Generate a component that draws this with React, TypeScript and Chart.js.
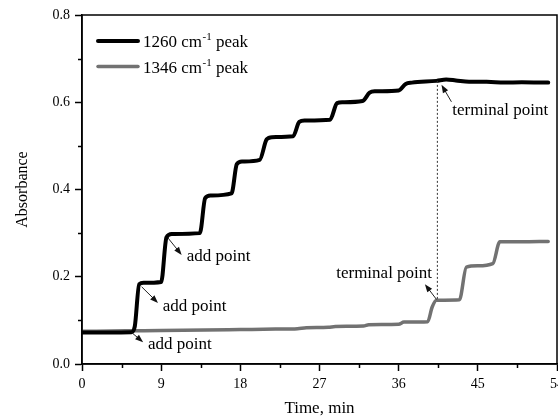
import React, { useEffect, useRef } from 'react';
import { Chart, registerables } from 'chart.js';

Chart.register(...registerables);

// ---- data ----
const time1260 = [0, 5.6, 6.0, 6.5, 7.0, 9.0, 9.6, 10.2, 13.4, 14.0, 14.6, 17.0, 17.6, 18.2, 20.2, 21.0, 21.6, 24.0, 24.7, 25.3, 28.2, 29.0, 29.6, 31.9, 32.7, 33.3, 36.0, 36.8, 37.5, 40.3, 41.4, 42.5, 44.0, 46.0, 48.0, 50.0, 53.0];
const abs1260 = [0.072, 0.073, 0.086, 0.183, 0.186, 0.188, 0.29, 0.298, 0.3, 0.38, 0.386, 0.391, 0.458, 0.464, 0.468, 0.515, 0.52, 0.522, 0.555, 0.558, 0.56, 0.598, 0.6, 0.603, 0.622, 0.625, 0.627, 0.642, 0.645, 0.649, 0.652, 0.65, 0.647, 0.647, 0.645, 0.646, 0.645];

const time1346 = [0, 5, 9, 14, 18, 22, 24.5, 25.5, 28, 28.8, 32, 32.6, 36, 36.6, 39.3, 39.8, 40.3, 42.9, 43.7, 45, 46.7, 47.5, 50, 53];
const abs1346 = [0.075, 0.076, 0.077, 0.078, 0.079, 0.08, 0.081, 0.083, 0.084, 0.086, 0.087, 0.09, 0.091, 0.096, 0.097, 0.13, 0.146, 0.147, 0.222, 0.225, 0.23, 0.28, 0.28, 0.281];

const xTickValues = [0, 9, 18, 27, 36, 45, 54];
const xMinorValues = [4.5, 13.5, 22.5, 31.5, 40.5, 49.5];
const yTickValues = [0, 0.2, 0.4, 0.6, 0.8];
const yMinorValues = [0.1, 0.3, 0.5, 0.7];

const seriesNumbers = ['1260', '1346'];
const xTitle = 'Time, min';
const yTitle = 'Absorbance';

// terminal marker (dotted vertical line)
const terminalTime = 40.4;
const terminalTop = 0.649;
const terminalBottom = 0.147;

// annotation arrows: tail (t, A) -> head (t, A), label anchored at (t, A)
const annTexts = ['add point', 'add point', 'add point', 'terminal point', 'terminal point'];
const annTail = [[5.65, 0.072], [6.78, 0.177], [9.77, 0.289], [42.0, 0.601], [40.3, 0.148]];
const annHead = [[6.95, 0.05], [8.64, 0.14], [11.33, 0.25], [40.87, 0.64], [38.98, 0.183]];
const annLabelAt = [[7.5, 0.044], [9.17, 0.131], [11.9, 0.246], [42.1, 0.582], [28.9, 0.208]];

const FAMILY = "'Liberation Serif', 'Times New Roman', serif";
const BLACK = '#000000';
const GRAY = '#727272';

function drawArrow(ctx: CanvasRenderingContext2D, x1: number, y1: number, x2: number, y2: number) {
  const ang = Math.atan2(y2 - y1, x2 - x1);
  const len = 8;
  const hw = 3;
  ctx.beginPath();
  ctx.moveTo(x1, y1);
  ctx.lineTo(x2 - Math.cos(ang) * len * 0.6, y2 - Math.sin(ang) * len * 0.6);
  ctx.lineWidth = 1;
  ctx.strokeStyle = '#222';
  ctx.stroke();
  ctx.beginPath();
  ctx.moveTo(x2, y2);
  ctx.lineTo(x2 - Math.cos(ang) * len - Math.sin(ang) * hw, y2 - Math.sin(ang) * len + Math.cos(ang) * hw);
  ctx.lineTo(x2 - Math.cos(ang) * len + Math.sin(ang) * hw, y2 - Math.sin(ang) * len - Math.cos(ang) * hw);
  ctx.closePath();
  ctx.fillStyle = '#111';
  ctx.fill();
}

const decorPlugin = {
  id: 'decor',
  afterDraw(chart: any) {
    const { ctx, chartArea: a, scales } = chart;
    const xs = scales.x;
    const ys = scales.y;
    ctx.save();
    // frame
    ctx.strokeStyle = BLACK;
    ctx.lineWidth = 1.5;
    ctx.strokeRect(a.left, a.top, a.right - a.left, a.bottom - a.top);
    // minor ticks
    ctx.lineWidth = 1.5;
    ctx.beginPath();
    xMinorValues.forEach((v) => {
      const px = Math.round(xs.getPixelForValue(v)) + 0.5;
      ctx.moveTo(px, a.bottom);
      ctx.lineTo(px, a.bottom + 4);
    });
    yMinorValues.forEach((v) => {
      const py = Math.round(ys.getPixelForValue(v)) + 0.5;
      ctx.moveTo(a.left, py);
      ctx.lineTo(a.left - 4, py);
    });
    ctx.stroke();

    // dotted vertical line
    ctx.beginPath();
    ctx.setLineDash([2, 2]);
    ctx.lineWidth = 1;
    ctx.strokeStyle = '#333';
    const tx = xs.getPixelForValue(terminalTime);
    ctx.moveTo(tx, ys.getPixelForValue(terminalTop));
    ctx.lineTo(tx, ys.getPixelForValue(terminalBottom));
    ctx.stroke();
    ctx.setLineDash([]);

    // annotations
    annTexts.forEach((txt, i) => {
      drawArrow(
        ctx,
        xs.getPixelForValue(annTail[i][0]), ys.getPixelForValue(annTail[i][1]),
        xs.getPixelForValue(annHead[i][0]), ys.getPixelForValue(annHead[i][1])
      );
      ctx.font = `17px ${FAMILY}`;
      ctx.fillStyle = BLACK;
      ctx.textAlign = 'left';
      ctx.textBaseline = 'middle';
      ctx.fillText(txt, xs.getPixelForValue(annLabelAt[i][0]), ys.getPixelForValue(annLabelAt[i][1]));
    });

    // legend
    const colors = [BLACK, GRAY];
    const widths = [4, 3.5];
    const rowsY = [a.top + 26, a.top + 51.5];
    seriesNumbers.forEach((num, i) => {
      const yy = rowsY[i];
      ctx.beginPath();
      ctx.moveTo(a.left + 16, yy);
      ctx.lineTo(a.left + 56, yy);
      ctx.strokeStyle = colors[i];
      ctx.lineWidth = widths[i];
      ctx.lineCap = 'round';
      ctx.stroke();
      ctx.fillStyle = BLACK;
      ctx.textAlign = 'left';
      ctx.textBaseline = 'alphabetic';
      let x = a.left + 61;
      const base = yy + 6;
      ctx.font = `17px ${FAMILY}`;
      const main = `${num} cm`;
      ctx.fillText(main, x, base);
      x += ctx.measureText(main).width;
      ctx.font = `11px ${FAMILY}`;
      ctx.fillText('-1', x + 0.5, base - 7);
      x += ctx.measureText('-1').width + 0.5;
      ctx.font = `17px ${FAMILY}`;
      ctx.fillText(' peak', x, base);
    });
    ctx.restore();
  },
};

export default function App() {
  const canvasRef = useRef<HTMLCanvasElement | null>(null);

  useEffect(() => {
    if (!canvasRef.current) return;
    const tickFont = { family: FAMILY, size: 14 };
    const chart = new Chart(canvasRef.current, {
      type: 'line',
      data: {
        datasets: [
          {
            label: '1260 cm-1 peak',
            data: time1260.map((t, i) => ({ x: t, y: abs1260[i] })),
            borderColor: BLACK,
            borderWidth: 4,
            pointRadius: 0,
            cubicInterpolationMode: 'monotone',
            borderJoinStyle: 'round',
            borderCapStyle: 'round',
          },
          {
            label: '1346 cm-1 peak',
            data: time1346.map((t, i) => ({ x: t, y: abs1346[i] })),
            borderColor: GRAY,
            borderWidth: 3.5,
            pointRadius: 0,
            cubicInterpolationMode: 'monotone',
            borderJoinStyle: 'round',
            borderCapStyle: 'round',
          },
        ],
      },
      options: {
        animation: false,
        responsive: false,
        layout: { padding: { top: 15, right: 1, left: 0, bottom: 0 } },
        plugins: { legend: { display: false }, tooltip: { enabled: false } },
        scales: {
          x: {
            type: 'linear',
            min: 0,
            max: 54,
            afterBuildTicks: (s: any) => {
              s.ticks = xTickValues.map((v) => ({ value: v }));
            },
            afterFit: (s: any) => {
              s.height = 52;
              s.paddingLeft = 0;
              s.paddingRight = 0;
            },
            ticks: { font: tickFont, color: BLACK, padding: 5, maxRotation: 0, autoSkip: false },
            grid: { drawOnChartArea: false, tickLength: 7, tickWidth: 1.5, tickColor: BLACK },
            border: { color: BLACK, width: 1.5 },
            title: {
              display: true,
              text: xTitle,
              color: BLACK,
              font: { family: FAMILY, size: 17, lineHeight: 1 },
              padding: { top: 0, bottom: -1 },
            },
          },
          y: {
            type: 'linear',
            min: 0,
            max: 0.8,
            afterBuildTicks: (s: any) => {
              s.ticks = yTickValues.map((v) => ({ value: v }));
            },
            afterFit: (s: any) => {
              s.width = 82;
              s.paddingTop = 0;
              s.paddingBottom = 0;
            },
            ticks: {
              font: tickFont,
              color: BLACK,
              padding: 5,
              callback: (v: any) => Number(v).toFixed(1),
            },
            grid: { drawOnChartArea: false, tickLength: 7, tickWidth: 1.5, tickColor: BLACK },
            border: { color: BLACK, width: 1.5 },
            title: {
              display: true,
              text: yTitle,
              color: BLACK,
              font: { family: FAMILY, size: 16, lineHeight: 1 },
              padding: { top: 15, bottom: 0 },
            },
          },
        },
      },
      plugins: [decorPlugin],
    } as any);
    return () => chart.destroy();
  }, []);

  return (
    <div style={{ position: 'fixed', left: 0, top: 0, width: 558, height: 416, background: '#fff' }}>
      <canvas ref={canvasRef} width={558} height={416} style={{ display: 'block' }} />
    </div>
  );
}
